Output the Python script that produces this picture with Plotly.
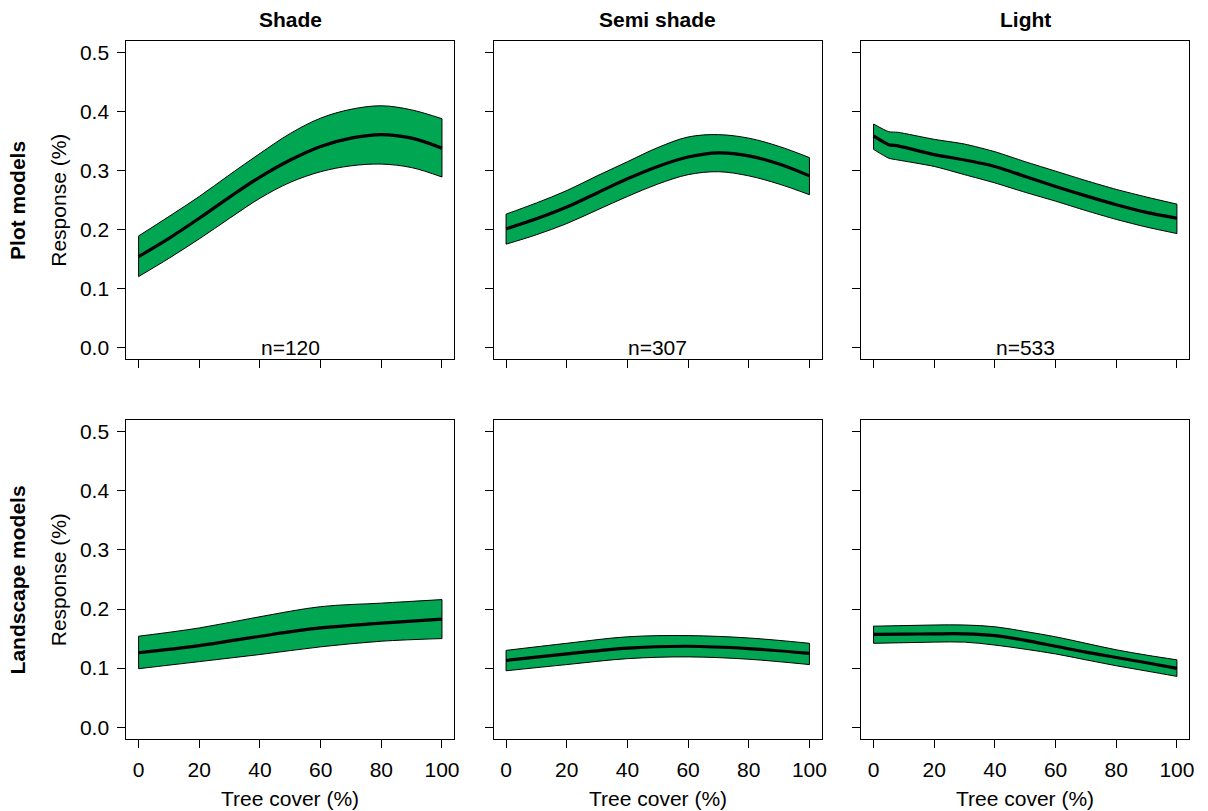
import plotly.graph_objects as go

# ---------------- data ----------------
cols = ["Shade", "Semi shade", "Light"]
rows = ["Plot models", "Landscape models"]
n_labels = ["n=120", "n=307", "n=533"]
x_ticks = [0, 20, 40, 60, 80, 100]
y_ticks = [0.0, 0.1, 0.2, 0.3, 0.4, 0.5]

# Plot models - Shade
ps_x = [0, 10, 20, 30, 40, 50, 60, 70, 80, 90, 100]
ps_mean = [0.154, 0.185, 0.219, 0.255, 0.289, 0.318, 0.341, 0.355, 0.361, 0.355, 0.338]
ps_up = [0.189, 0.222, 0.256, 0.293, 0.329, 0.363, 0.389, 0.404, 0.410, 0.403, 0.388]
ps_lo = [0.120, 0.151, 0.184, 0.219, 0.253, 0.280, 0.298, 0.308, 0.311, 0.305, 0.289]

# Plot models - Semi shade
pm_x = [0, 10, 20, 30, 40, 50, 60, 70, 80, 90, 100]
pm_mean = [0.201, 0.218, 0.238, 0.262, 0.286, 0.307, 0.323, 0.330, 0.325, 0.311, 0.291]
pm_up = [0.226, 0.245, 0.266, 0.291, 0.315, 0.339, 0.357, 0.361, 0.355, 0.341, 0.322]
pm_lo = [0.175, 0.191, 0.210, 0.233, 0.256, 0.277, 0.293, 0.298, 0.291, 0.277, 0.259]

# Plot models - Light
pl_x = [0, 5, 8, 20, 30, 40, 50, 60, 70, 80, 90, 100]
pl_mean = [0.359, 0.344, 0.342, 0.327, 0.318, 0.307, 0.290, 0.273, 0.257, 0.242, 0.229, 0.219]
pl_up = [0.379, 0.366, 0.365, 0.353, 0.345, 0.332, 0.315, 0.299, 0.283, 0.268, 0.255, 0.243]
pl_lo = [0.336, 0.321, 0.318, 0.307, 0.293, 0.279, 0.263, 0.248, 0.232, 0.217, 0.204, 0.193]

# Landscape models - Shade
ls_x = [0, 20, 40, 60, 80, 100]
ls_mean = [0.126, 0.138, 0.154, 0.168, 0.176, 0.183]
ls_up = [0.154, 0.168, 0.187, 0.204, 0.210, 0.216]
ls_lo = [0.099, 0.111, 0.123, 0.136, 0.1455, 0.150]

# Landscape models - Semi shade
lm_x = [0, 20, 40, 60, 80, 100]
lm_mean = [0.113, 0.124, 0.134, 0.137, 0.133, 0.125]
lm_up = [0.130, 0.142, 0.153, 0.155, 0.151, 0.142]
lm_lo = [0.0955, 0.106, 0.116, 0.119, 0.115, 0.106]

# Landscape models - Light
ll_x = [0, 10, 20, 30, 40, 50, 60, 70, 80, 90, 100]
ll_mean = [0.157, 0.1575, 0.158, 0.158, 0.155, 0.147, 0.137, 0.127, 0.118, 0.109, 0.0995]
ll_up = [0.171, 0.172, 0.173, 0.173, 0.170, 0.162, 0.153, 0.142, 0.131, 0.122, 0.114]
ll_lo = [0.142, 0.143, 0.144, 0.144, 0.139, 0.132, 0.124, 0.114, 0.104, 0.095, 0.086]

panels = [
    [(ps_x, ps_mean, ps_up, ps_lo), (pm_x, pm_mean, pm_up, pm_lo), (pl_x, pl_mean, pl_up, pl_lo)],
    [(ls_x, ls_mean, ls_up, ls_lo), (lm_x, lm_mean, lm_up, lm_lo), (ll_x, ll_mean, ll_up, ll_lo)],
]

# ---------------- layout geometry ----------------
W, H = 1208, 811
col_px = [(127, 456), (496, 825), (865, 1194)]
row_px = [(41, 359), (420, 739)]
GREEN = "#00a651"
FONT = "Liberation Sans, Arial, Helvetica, sans-serif"
FS = 21

fig = go.Figure()
layout = dict(
    width=W, height=H,
    margin=dict(l=0, r=0, t=0, b=0),
    paper_bgcolor="white", plot_bgcolor="white",
    showlegend=False,
    font=dict(family=FONT, size=FS, color="black"),
)

annotations = []
k = 0
for r in range(2):
    for c in range(3):
        k += 1
        xa = "x" if k == 1 else f"x{k}"
        ya = "y" if k == 1 else f"y{k}"
        xs, mean, up, lo = panels[r][c]
        shape = "spline"
        sm = 0.6 if (r == 0 and c == 2) else 1.0
        fig.add_trace(go.Scatter(x=xs, y=lo, mode="lines", xaxis=xa, yaxis=ya,
                                 line=dict(color="black", width=1, shape=shape, smoothing=sm),
                                 hoverinfo="skip"))
        fig.add_trace(go.Scatter(x=xs, y=up, mode="lines", xaxis=xa, yaxis=ya,
                                 fill="tonexty", fillcolor=GREEN,
                                 line=dict(color="black", width=1, shape=shape, smoothing=sm),
                                 hoverinfo="skip"))
        fig.add_trace(go.Scatter(x=[xs[0], xs[0], None, xs[-1], xs[-1]],
                                 y=[lo[0], up[0], None, lo[-1], up[-1]],
                                 mode="lines", xaxis=xa, yaxis=ya,
                                 line=dict(color="black", width=1), hoverinfo="skip"))
        fig.add_trace(go.Scatter(x=xs, y=mean, mode="lines", xaxis=xa, yaxis=ya,
                                 line=dict(color="black", width=3.2, shape=shape, smoothing=sm),
                                 hoverinfo="skip"))

        x0, x1 = col_px[c]
        y0, y1 = row_px[r]
        layout["xaxis" if k == 1 else f"xaxis{k}"] = dict(
            domain=[x0 / W, x1 / W], range=[-4, 104], anchor=ya,
            tickvals=x_ticks, ticktext=[str(v) for v in x_ticks],
            showticklabels=(r == 1), ticks="outside", ticklen=8, tickwidth=1.2,
            tickcolor="black", showline=True, mirror=True, linecolor="black",
            linewidth=1.3, showgrid=False, zeroline=False,
            tickfont=dict(family=FONT, size=FS, color="black"),
            ticklabelstandoff=4,
        )
        layout["yaxis" if k == 1 else f"yaxis{k}"] = dict(
            domain=[1 - y1 / H, 1 - y0 / H], range=[-0.02, 0.52], anchor=xa,
            tickvals=y_ticks, ticktext=[f"{v:.1f}" for v in y_ticks],
            showticklabels=(c == 0), ticks="outside", ticklen=8, tickwidth=1.2,
            tickcolor="black", showline=True, mirror=True, linecolor="black",
            linewidth=1.3, showgrid=False, zeroline=False,
            tickfont=dict(family=FONT, size=FS, color="black"),
            ticklabelstandoff=4,
        )
        if r == 0:
            annotations.append(dict(text=n_labels[c], x=50, y=0, xref=xa, yref=ya,
                                    showarrow=False, xanchor="center", yanchor="middle",
                                    font=dict(family=FONT, size=FS, color="black")))
        else:
            annotations.append(dict(text="Tree cover (%)", x=(x0 + x1) / 2 / W, y=1 - 798 / H,
                                    xref="paper", yref="paper", showarrow=False,
                                    xanchor="center", yanchor="middle",
                                    font=dict(family=FONT, size=FS, color="black")))

for c in range(3):
    x0, x1 = col_px[c]
    annotations.append(dict(text=f"<b>{cols[c]}</b>", x=(x0 + x1) / 2 / W, y=1 - 20 / H,
                            xref="paper", yref="paper", showarrow=False,
                            xanchor="center", yanchor="middle",
                            font=dict(family=FONT, size=FS, color="black")))
for r in range(2):
    y0, y1 = row_px[r]
    yc = 1 - (y0 + y1) / 2 / H
    annotations.append(dict(text=f"<b>{rows[r]}</b>", x=18 / W, y=yc, xref="paper", yref="paper",
                            showarrow=False, textangle=-90, xanchor="center", yanchor="middle",
                            font=dict(family=FONT, size=FS, color="black")))
    annotations.append(dict(text="Response (%)", x=59 / W, y=yc, xref="paper", yref="paper",
                            showarrow=False, textangle=-90, xanchor="center", yanchor="middle",
                            font=dict(family=FONT, size=FS, color="black")))

layout["annotations"] = annotations
fig.update_layout(**layout)
fig.write_html("out.html",
               config={"displayModeBar": False},
               post_script="document.body.style.margin='0';document.body.style.overflow='hidden';")
